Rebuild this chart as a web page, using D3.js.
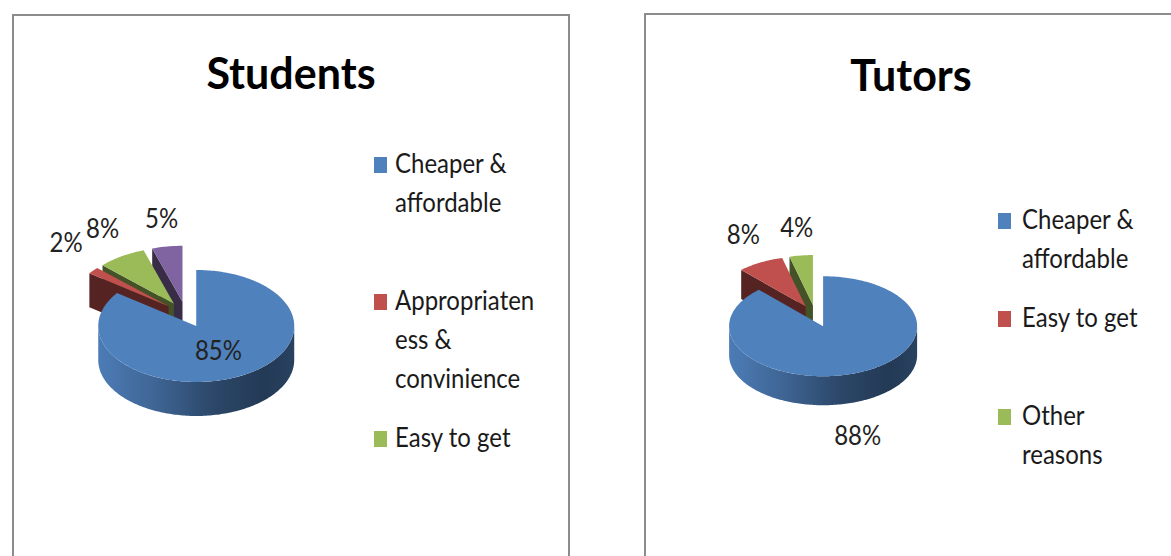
<!DOCTYPE html>
<html><head><meta charset="utf-8">
<script src="https://cdn.jsdelivr.net/npm/d3@7"></script>
<style>html,body{margin:0;padding:0;background:#fff;} svg{display:block;}</style>
</head><body>
<svg id="chart" width="1171" height="556"></svg>
<script>
// ---- data ----
const studentsTitle = "Students";
const studentsCategories = ["Cheaper & affordable", "Appropriateness & convinience", "Easy to get", "Other reasons"];
const studentsValues = [85, 2, 8, 5];
const studentsLegendLines = [["Cheaper &", "affordable"], ["Appropriaten", "ess &", "convinience"], ["Easy to get"], ["Other", "reasons"]];
const studentsLabelPlacement = ["inside", "outside", "outside", "outside"];
const studentsColors = ["#4f81bd", "#c0504d", "#9bbb59", "#8064a2"];

const tutorsTitle = "Tutors";
const tutorsCategories = ["Cheaper & affordable", "Easy to get", "Other reasons"];
const tutorsValues = [88, 8, 4];
const tutorsLegendLines = [["Cheaper &", "affordable"], ["Easy to get"], ["Other", "reasons"]];
const tutorsLabelPlacement = ["outside", "outside", "outside"];
const tutorsColors = ["#4f81bd", "#c0504d", "#9bbb59"];

// ---- drawing ----
const W = 1171, H = 556;
const svg = d3.select("#chart");
const defs = svg.append("defs");
const FONT = "Lato, 'Open Sans', 'DejaVu Sans', sans-serif";

function addText(g, x, y, txt, size, extra) {
  const t = g.append("text")
    .attr("transform", `translate(${x},${y}) scale(1,1.1)`)
    .attr("font-family", FONT).attr("font-size", size).text(txt);
  if (extra) extra(t);
  return t;
}

function drawPanel(cfg, id) {
  const g = svg.append("g");
  g.append("rect")
    .attr("x", cfg.frame.x).attr("y", cfg.frame.y)
    .attr("width", cfg.frame.w).attr("height", cfg.frame.h)
    .attr("fill", "#fff").attr("stroke", "#8c8c8c").attr("stroke-width", 2);

  g.append("text")
    .attr("x", cfg.titlePos[0]).attr("y", cfg.titlePos[1])
    .attr("text-anchor", "middle")
    .attr("font-family", FONT).attr("font-weight", "bold").attr("font-size", 43)
    .attr("fill", "#000").text(cfg.title);

  const P = cfg.pie;
  const total = d3.sum(cfg.values);
  const fmt = d3.format(".0%");
  const arcs = d3.pie().sort(null).value(d => d)(cfg.values);
  const slices = arcs.map((a, i) => {
    const mid = (a.startAngle + a.endAngle) / 2;
    return {
      i, a0: a.startAngle, a1: a.endAngle, mid, value: a.value,
      c: [P.cx + P.explode * P.rx * Math.sin(mid), P.cy - P.explode * P.ry * Math.cos(mid)]
    };
  });
  const pt = (s, th, r = 1, dz = 0) => [s.c[0] + r * P.rx * Math.sin(th), s.c[1] - r * P.ry * Math.cos(th) + dz];
  const arcPts = (s, t0, t1, dz) => {
    const n = Math.max(2, Math.ceil((t1 - t0) / 0.02));
    return d3.range(n + 1).map(k => pt(s, t0 + (t1 - t0) * k / n, 1, dz));
  };
  const line = d3.line();

  const order = slices.slice().sort((a, b) => (-Math.cos(a.mid)) - (-Math.cos(b.mid)));
  order.forEach(s => {
    const col = d3.color(cfg.colors[s.i]);
    const dark = col.darker(2.3).formatHex();
    const faces = [];
    if (Math.cos(s.a0 - Math.PI / 2) < -1e-6) faces.push(s.a0);
    if (Math.cos(s.a1 + Math.PI / 2) < -1e-6) faces.push(s.a1);
    faces.forEach(th => {
      const pts = [s.c, pt(s, th), pt(s, th, 1, P.depth), [s.c[0], s.c[1] + P.depth]];
      g.append("path").attr("d", line(pts) + "Z").attr("fill", dark);
    });
    const w0 = Math.max(s.a0, Math.PI / 2), w1 = Math.min(s.a1, 3 * Math.PI / 2);
    if (w1 > w0) {
      const gid = `wall-${id}-${s.i}`;
      const grad = defs.append("linearGradient").attr("id", gid)
        .attr("gradientUnits", "userSpaceOnUse")
        .attr("x1", s.c[0] - P.rx).attr("x2", s.c[0] + P.rx).attr("y1", 0).attr("y2", 0);
      [[0, 0.1], [0.3, 0.7], [0.6, 1.7], [0.85, 2.25], [1, 1.9]].forEach(([o, k]) =>
        grad.append("stop").attr("offset", o).attr("stop-color", col.darker(k).formatHex()));
      const top = arcPts(s, w0, w1, 0), bot = arcPts(s, w0, w1, P.depth).reverse();
      g.append("path").attr("d", line(top.concat(bot)) + "Z").attr("fill", `url(#${gid})`);
    }
    g.append("path").attr("d", line([s.c].concat(arcPts(s, s.a0, s.a1, 0))) + "Z").attr("fill", col.formatHex());
  });

  // data labels
  slices.forEach(s => {
    const dx = Math.sin(s.mid), dy = -Math.cos(s.mid);
    let x, y;
    if (cfg.labelPlacement[s.i] === "inside") {
      [x, y] = pt(s, s.mid, 0.5);
    } else if (dy > 0) {
      const a = pt(s, s.mid, 1, P.depth);
      x = a[0]; y = a[1] + 34;
    } else {
      const a = pt(s, s.mid, 1, 0);
      x = a[0] + dx * 35; y = a[1] - 28;
    }
    addText(g, x, y, fmt(s.value / total), 24, t =>
      t.attr("dy", "0.35em").attr("text-anchor", "middle").attr("fill", "#222"));
  });

  // legend (entries that fall below the visible area are not drawn)
  const L = cfg.legend;
  const maxLines = d3.max(cfg.legendLines, d => d.length);
  const slot = maxLines * L.lineH + 20;
  cfg.legendLines.forEach((lines, i) => {
    const cy = L.y + i * slot;
    if (cy + 8 > H) return;
    g.append("rect").attr("x", L.sx).attr("y", cy - 8).attr("width", 13).attr("height", 16)
      .attr("fill", cfg.colors[i]);
    lines.forEach((t, j) => {
      addText(g, L.tx, cy + 8 + j * L.lineH, t, 24, e => e.attr("fill", "#1a1a1a"));
    });
  });
}

drawPanel({
  title: studentsTitle, values: studentsValues, colors: studentsColors,
  legendLines: studentsLegendLines, labelPlacement: studentsLabelPlacement,
  frame: { x: 13, y: 15, w: 556, h: 600 }, titlePos: [291, 89],
  pie: { cx: 186, cy: 314.5, rx: 98, ry: 56, depth: 34, explode: 0.23 },
  legend: { sx: 374, tx: 395, y: 165, lineH: 39 }
}, "s");

drawPanel({
  title: tutorsTitle, values: tutorsValues, colors: tutorsColors,
  legendLines: tutorsLegendLines, labelPlacement: tutorsLabelPlacement,
  frame: { x: 645, y: 14, w: 600, h: 600 }, titlePos: [911, 91],
  pie: { cx: 815.5, cy: 316, rx: 94, ry: 50, depth: 29, explode: 0.22 },
  legend: { sx: 998, tx: 1022, y: 221, lineH: 39 }
}, "t");
</script>
</body></html>
